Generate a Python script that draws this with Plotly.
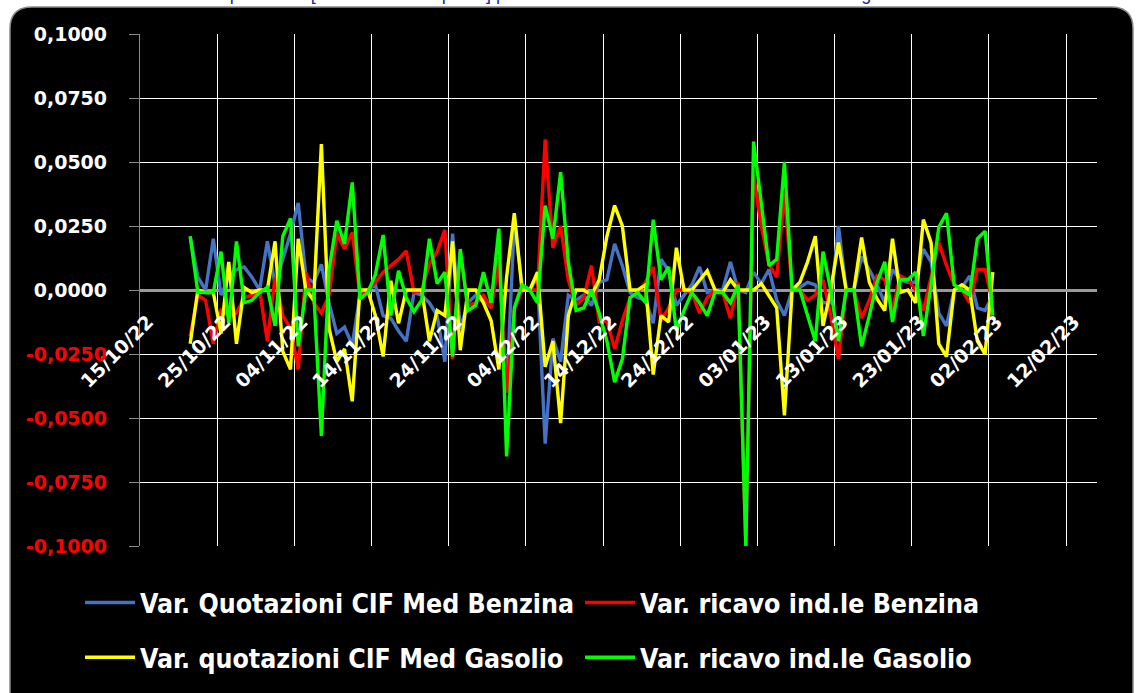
import pandas as pd
import plotly.graph_objects as go

# ---------------- data (daily variations, 21/10/2022 -> 02/02/2023) ----------------
start_date = "2022-10-21"

var_cif_benzina = [
    0.021, 0.005, 0.000, 0.020, -0.002, 0.005, 0.008, 0.009, 0.005, 0.000,
    0.019, 0.002, 0.012, 0.022, 0.034, 0.005, 0.003, 0.010, -0.005, -0.017,
    -0.0145, -0.0215, -0.002, 0.000, 0.002, -0.010, -0.011, -0.016, -0.020, -0.001,
    -0.002, -0.005, -0.010, -0.028, 0.022, -0.015, -0.005, -0.002, -0.003, -0.007,
    0.013, -0.040, 0.027, 0.002, 0.000, 0.005, -0.060, -0.019, -0.028, -0.002,
    -0.004, -0.002, -0.006, 0.003, 0.004, 0.018, 0.0095, -0.001, -0.003, -0.004,
    -0.013, 0.012, 0.0075, -0.006, -0.002, 0.002, 0.009, -0.001, 0.000, 0.000,
    0.011, 0.000, -0.001, 0.007, 0.0025, 0.008, -0.004, -0.010, 0.000, 0.001,
    0.003, 0.002, -0.005, -0.005, 0.025, 0.000, 0.000, 0.013, 0.008, 0.002,
    -0.005, 0.008, 0.004, 0.003, 0.003, 0.016, 0.011, -0.009, -0.014, 0.000,
    0.001, 0.0055, -0.007, -0.008, -0.002,
]
var_ricavo_benzina = [
    -0.018, -0.002, -0.004, -0.021, -0.008, -0.010, -0.009, -0.003, -0.002, 0.000,
    -0.020, 0.005, -0.010, -0.015, -0.031, 0.007, -0.005, -0.009, -0.002, 0.022,
    0.016, 0.0225, -0.002, 0.000, 0.003, 0.007, 0.0095, 0.012, 0.0153, -0.001,
    0.000, 0.010, 0.015, 0.0235, -0.027, 0.015, -0.006, -0.005, -0.002, -0.007,
    0.012, -0.040, -0.008, 0.000, 0.000, 0.000, 0.0588, 0.0165, 0.025, 0.004,
    -0.006, -0.003, 0.0095, -0.0125, -0.012, -0.023, -0.012, -0.003, -0.001, 0.003,
    0.009, -0.012, -0.007, 0.000, 0.000, -0.001, -0.009, -0.003, 0.000, -0.001,
    -0.011, 0.003, -0.100, 0.045, 0.025, 0.010, 0.005, 0.038, 0.000, 0.000,
    -0.004, -0.002, 0.004, -0.010, -0.027, 0.000, 0.000, -0.011, -0.004, 0.0055,
    0.004, -0.0075, 0.0055, 0.004, 0.000, -0.008, 0.005, 0.0185, 0.0095, 0.002,
    0.000, -0.005, 0.008, 0.008, -0.005,
]
var_cif_gasolio = [
    -0.021, 0.000, -0.001, -0.001, -0.017, 0.011, -0.021, 0.001, -0.001, 0.000,
    0.000, 0.019, -0.024, -0.031, 0.020, 0.000, -0.004, 0.057, -0.015, -0.028,
    -0.023, -0.0435, 0.000, 0.000, -0.010, -0.026, 0.0036, -0.013, 0.000, 0.000,
    0.000, -0.020, -0.008, -0.010, 0.019, -0.0235, 0.000, 0.000, -0.005, -0.012,
    -0.031, 0.005, 0.030, 0.000, 0.000, 0.007, -0.030, -0.020, -0.052, -0.010,
    0.000, 0.000, -0.002, 0.004, 0.021, 0.033, 0.025, 0.000, 0.000, 0.002,
    -0.033, -0.010, -0.0125, 0.0165, 0.000, 0.000, 0.004, 0.0075, 0.000, -0.001,
    0.004, 0.000, 0.000, 0.000, 0.0025, -0.002, -0.007, -0.049, 0.000, 0.003,
    0.011, 0.021, -0.014, 0.000, 0.0185, 0.000, 0.000, 0.0205, 0.003, -0.0035,
    -0.008, 0.020, -0.001, 0.000, -0.005, 0.0275, 0.0185, -0.021, -0.026, 0.000,
    0.002, 0.000, -0.020, -0.025, 0.007,
]
var_ricavo_gasolio = [
    0.021, -0.001, -0.001, -0.001, 0.015, -0.013, 0.019, -0.005, -0.004, -0.001,
    0.001, -0.014, 0.021, 0.028, -0.022, 0.000, 0.000, -0.057, 0.008, 0.027,
    0.018, 0.042, -0.0035, -0.001, 0.006, 0.0215, -0.010, 0.0075, -0.003, -0.0085,
    -0.004, 0.020, 0.0025, 0.007, -0.026, 0.016, -0.008, -0.006, 0.007, -0.005,
    0.024, -0.065, -0.007, 0.002, 0.000, -0.005, 0.033, 0.020, 0.046, 0.011,
    -0.008, -0.007, 0.000, -0.009, -0.020, -0.036, -0.027, -0.003, -0.001, -0.005,
    0.0275, 0.004, 0.009, -0.016, -0.008, -0.001, -0.005, -0.010, -0.001, -0.001,
    -0.005, 0.002, -0.100, 0.058, 0.034, 0.0095, 0.012, 0.050, 0.000, 0.000,
    -0.010, -0.020, 0.015, 0.000, -0.020, 0.000, 0.000, -0.022, -0.010, 0.003,
    0.011, -0.0125, 0.004, 0.004, 0.007, -0.018, 0.002, 0.0245, 0.030, 0.002,
    0.000, -0.002, 0.020, 0.023, -0.010,
]

series_names = [
    "Var. Quotazioni CIF Med Benzina",
    "Var. ricavo ind.le Benzina",
    "Var. quotazioni CIF Med Gasolio",
    "Var. ricavo ind.le Gasolio",
]
series_colors = ["#4472C4", "#FF0000", "#FFFF00", "#00FF00"]
series_legends = ["legend", "legend", "legend2", "legend2"]

ytick_vals = [0.1, 0.075, 0.05, 0.025, 0.0, -0.025, -0.05, -0.075, -0.1]
ytick_text = ["0,1000", "0,0750", "0,0500", "0,0250", "0,0000",
              "-0,0250", "-0,0500", "-0,0750", "-0,1000"]

title_text = ("Grafico 3 - Variazioni quotazioni [al netto delle imposte] per dati dal 21/10/22 al 02/02/23 "
              "di benzina e gasolio")

# ---------------- figure ----------------
W, H = 1136, 693
L, R, T, B = 140, 39, 34, 145
PW, PH = W - L - R, H - T - B

def px(x):
    return (x - L) / PW

def py(y):
    return (H - B - y) / PH

dates = pd.date_range(start_date, periods=len(var_cif_benzina), freq="D") + pd.Timedelta(hours=12)

fig = go.Figure()
for vals, name, col, lg in zip(
    [var_cif_benzina, var_ricavo_benzina, var_cif_gasolio, var_ricavo_gasolio],
    series_names, series_colors, series_legends,
):
    fig.add_trace(go.Scatter(
        x=dates, y=vals, mode="lines", name=name,
        line=dict(color=col, width=3.4), legend=lg,
    ))

# black rounded panel behind everything
x0, x1, y0, y1, r = 10, 1133, 7, 705, 22
path = (
    f"M {px(x0)},{py(y1)} L {px(x0)},{py(y0 + r)} "
    f"Q {px(x0)},{py(y0)} {px(x0 + r)},{py(y0)} "
    f"L {px(x1 - r)},{py(y0)} "
    f"Q {px(x1)},{py(y0)} {px(x1)},{py(y0 + r)} "
    f"L {px(x1)},{py(y1)} Z"
)
fig.add_shape(type="path", path=path, xref="paper", yref="paper",
              fillcolor="black", line=dict(color="#8a8a8a", width=1.5), layer="below")

ytick_html = [
    (f"<span style='color:#FF0000'>{t}</span>" if v < 0 else t)
    for v, t in zip(ytick_vals, ytick_text)
]

tick_font = dict(family="DejaVu Sans", size=19, color="white", weight="bold")
legend_font = dict(family="DejaVu Sans Condensed, DejaVu Sans, sans-serif",
                   size=26.5, color="white", weight="bold")

fig.update_layout(
    width=W, height=H,
    margin=dict(l=L, r=R, t=T, b=B),
    paper_bgcolor="white",
    plot_bgcolor="black",
    showlegend=True,
    xaxis=dict(
        type="date",
        range=["2022-10-15", "2023-02-16"],
        tick0="2022-10-15", dtick=864000000,
        tickformat="%d/%m/%y", tickangle=-45,
        anchor="free", position=0.5,
        showgrid=True, gridcolor="white", gridwidth=1.3,
        showline=False, zeroline=False, ticks="",
        tickfont=tick_font,
        ticklabelstandoff=16, ticklabelshift=8,
    ),
    yaxis=dict(
        range=[-0.1, 0.1],
        tickvals=ytick_vals, ticktext=ytick_html,
        showgrid=True, gridcolor="white", gridwidth=1.3,
        zeroline=True, zerolinecolor="#9a9a9a", zerolinewidth=2.5,
        showline=True, linecolor="#8a8a8a", linewidth=1.3,
        ticks="outside", ticklen=10, tickcolor="#8a8a8a", tickwidth=1.3,
        tickfont=tick_font,
        ticklabelstandoff=18,
    ),
    legend=dict(
        orientation="h", x=px(80), xanchor="left", y=py(605), yanchor="middle",
        font=legend_font,
        bgcolor="rgba(0,0,0,0)", entrywidth=435, entrywidthmode="pixels",
        itemwidth=50,
    ),
    legend2=dict(
        orientation="h", x=px(80), xanchor="left", y=py(660), yanchor="middle",
        font=legend_font,
        bgcolor="rgba(0,0,0,0)", entrywidth=435, entrywidthmode="pixels",
        itemwidth=50,
    ),
)

fig.add_annotation(
    text=title_text, xref="paper", yref="paper",
    x=px(50), xanchor="left", y=py(6), yanchor="bottom",
    showarrow=False, font=dict(family="Liberation Sans", size=18, color="#2323A8"),
)

# the page is photographed from its top-left corner: drop the default body margin
fig.write_html(
    "out.html",
    config={"displayModeBar": False},
    post_script="document.body.style.margin='0';document.body.style.overflow='hidden';",
)
